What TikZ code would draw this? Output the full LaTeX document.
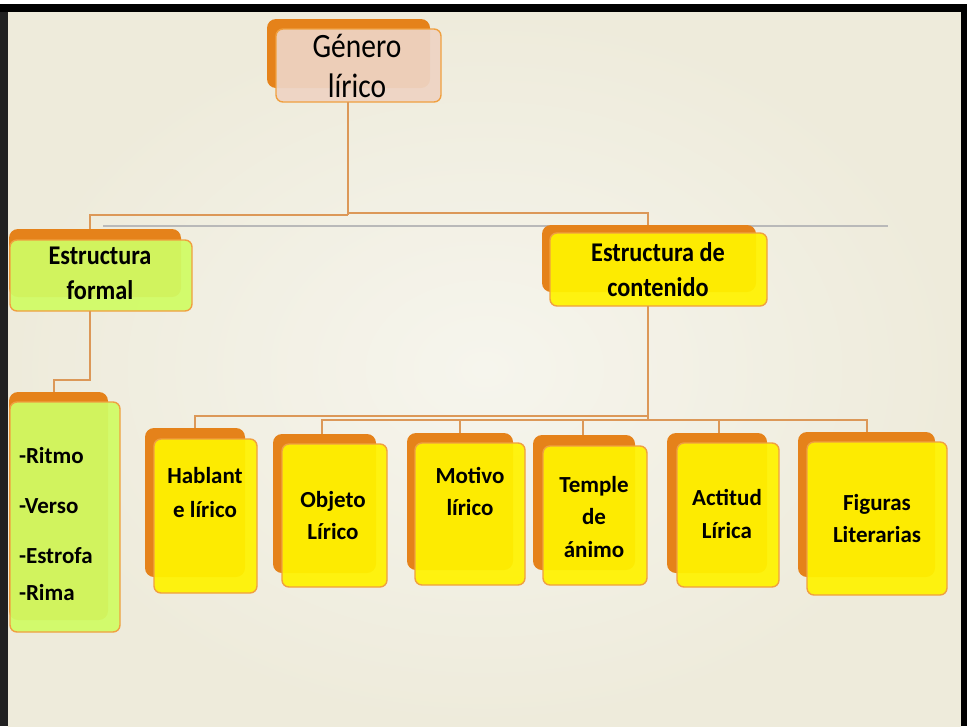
\documentclass[tikz,border=0pt]{standalone}
\usepackage{fontspec}
\setmainfont{Carlito}
\definecolor{bgin}{RGB}{246,245,237}
\definecolor{bgout}{RGB}{238,235,219}
\definecolor{shad}{RGB}{229,130,26}
\definecolor{edge}{RGB}{240,160,64}
\definecolor{yel}{RGB}{255,243,0}
\definecolor{grn}{RGB}{208,252,100}
\definecolor{peach}{RGB}{238,212,196}
\definecolor{conn}{RGB}{220,152,88}
\definecolor{gline}{RGB}{185,185,185}
\newcommand\ml[3]{\fontsize{#1}{#2}\selectfont\begin{tabular}[t]{@{}c@{}}#3\end{tabular}}
\tikzset{
  shadowbox/.style={fill=shad, rounded corners=9pt, inner sep=0pt, outer sep=0pt},
  frontbox/.style={fill=#1, fill opacity=0.93, draw=edge, line width=1.4pt, rounded corners=7pt, inner sep=0pt, outer sep=0pt},
  lbl/.style={inner sep=0pt, outer sep=0pt, anchor=base, text=black},
  cn/.style={draw=conn, line width=2.8pt},
}
\begin{document}
\begin{tikzpicture}[x=1pt,y=-1pt]
\useasboundingbox (0,0) rectangle (971,726);
% background and frame
\shade[inner color=bgin, outer color=bgout] (8,12) rectangle (961,726);
\fill[black] (0,4) rectangle (967,12);
\fill[black!87] (0,12) rectangle (8,726);
\fill[black] (961,4) rectangle (967,726);
% gray rule
\draw[gline, line width=1.8pt] (103,226) -- (888,226);

% shadow boxes
\node[shadowbox, minimum width=163pt, minimum height=69pt] (gens) at (348.5,53.5) {};
\node[shadowbox, minimum width=172pt, minimum height=68pt] (efs) at (95,263) {};
\node[shadowbox, minimum width=214pt, minimum height=67pt] (ecs) at (649,258.5) {};
\node[shadowbox, minimum width=99pt, minimum height=228pt] (rs) at (58.5,506) {};
\node[shadowbox, minimum width=100pt, minimum height=149pt] (has) at (195,502.5) {};
\node[shadowbox, minimum width=103pt, minimum height=139pt] (obs) at (324.5,503.5) {};
\node[shadowbox, minimum width=106pt, minimum height=137pt] (mos) at (460,501.5) {};
\node[shadowbox, minimum width=102pt, minimum height=135pt] (tes) at (584,502.5) {};
\node[shadowbox, minimum width=100pt, minimum height=140pt] (acs) at (717,503) {};
\node[shadowbox, minimum width=137pt, minimum height=145pt] (fis) at (866.5,504.5) {};

% front boxes
\node[frontbox=peach, minimum width=165pt, minimum height=73pt] (gen) at (358.5,65.5) {};
\node[frontbox=grn, minimum width=182pt, minimum height=71pt] (ef) at (101,275.5) {};
\node[frontbox=yel, minimum width=217pt, minimum height=73pt] (ec) at (658.5,269.5) {};
\node[frontbox=grn, minimum width=110pt, minimum height=230pt] (r) at (65,517) {};
\node[frontbox=yel, minimum width=103pt, minimum height=154pt] (ha) at (205.5,516) {};
\node[frontbox=yel, minimum width=105pt, minimum height=143pt] (ob) at (334.5,515.5) {};
\node[frontbox=yel, minimum width=110pt, minimum height=142pt] (mo) at (470,514) {};
\node[frontbox=yel, minimum width=104pt, minimum height=139pt] (te) at (595,515.5) {};
\node[frontbox=yel, minimum width=102pt, minimum height=144pt] (ac) at (728,515) {};
\node[frontbox=yel, minimum width=140pt, minimum height=153pt] (fi) at (877,518.5) {};

% connectors
\coordinate (j1) at (348,214);
\coordinate (dL) at (90,215);
\coordinate (jL) at (348,215);
\coordinate (dR) at (648,213);
\coordinate (jR) at (348,213);
\draw[cn] (gen.south -| j1) -- (jL);
\draw[cn] (efs.north -| dL) -- (dL) -- (jL);
\draw[cn] (jR) -- (dR) -- (ecs.north -| dR);
\coordinate (k1) at (90,380);
\coordinate (k2) at (54,380);
\draw[cn] (ef.south -| k1) -- (k1) -- (k2) -- (rs.north -| k2);
\coordinate (m1) at (648,420);
\coordinate (hL) at (195,416);
\coordinate (hR) at (648,416);
\coordinate (oL) at (322,420);
\coordinate (fR) at (867,420);
\draw[cn] (ec.south -| m1) -- (m1);
\draw[cn] (has.north -| hL) -- (hL) -- (hR);
\draw[cn] (obs.north -| oL) -- (oL) -- (fR) -- (fis.north -| fR);
\draw[cn] (mos.north -| 460,0) -- (460,420);
\draw[cn] (tes.north -| 583,0) -- (583,420);
\draw[cn] (acs.north -| 719,0) -- (719,420);

% texts
\node[lbl] (gent) at (357,57) {\scalebox{0.95}[1.1]{\ml{31}{36.4}{Género\\lírico}}};
\node[lbl] (eft) at (100,264) {\bfseries\scalebox{0.97}[1.08]{\ml{25}{33.3}{Estructura\\formal}}};
\node[lbl] (ect) at (658,261) {\bfseries\scalebox{0.97}[1.08]{\ml{25}{33.3}{Estructura de\\contenido}}};
\node[lbl, anchor=base west] (rt) at (19,463) {\bfseries\fontsize{23}{37}\selectfont\begin{tabular}[t]{@{}l@{}}-Ritmo\\[13pt]-Verso\\[13pt]-Estrofa\\-Rima\end{tabular}};
\node[lbl] (hat) at (205,483) {\bfseries\ml{23}{34}{Hablant\\e lírico}};
\node[lbl] (obt) at (333,507) {\bfseries\ml{23}{32}{Objeto\\Lírico}};
\node[lbl] (mot) at (470,483) {\bfseries\ml{23}{32}{Motivo\\lírico}};
\node[lbl] (tet) at (594,492) {\bfseries\ml{23}{32.5}{Temple\\de\\ánimo}};
\node[lbl] (act) at (727,505) {\bfseries\ml{23}{33}{Actitud\\Lírica}};
\node[lbl] (fit) at (877,510) {\bfseries\ml{23}{32}{Figuras\\Literarias}};
\end{tikzpicture}
\end{document}
